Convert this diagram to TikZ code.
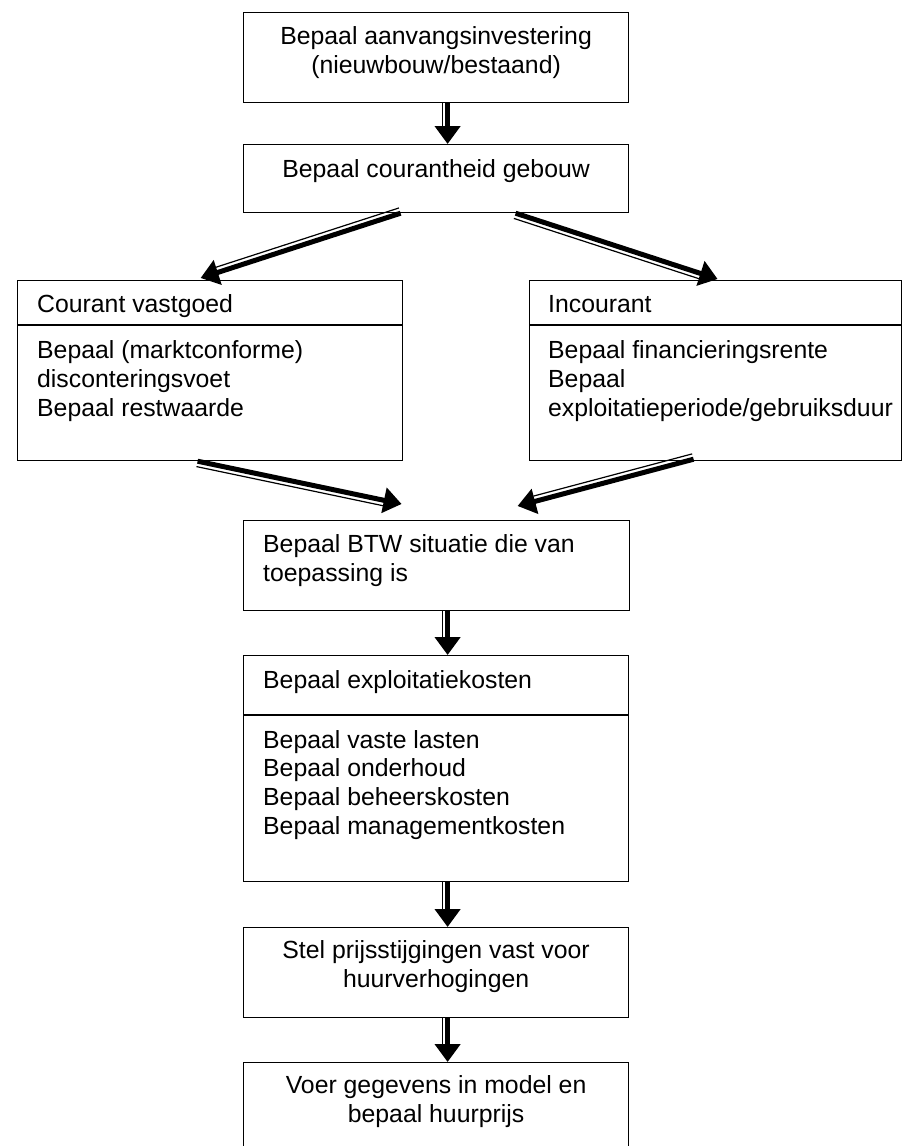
\documentclass[tikz,border=0pt]{standalone}
\usepackage{fontspec}
\setmainfont{Liberation Sans}
\usetikzlibrary{arrows.meta, calc}
\tikzstyle{box} = [rectangle, draw=black, line width=1.2pt, inner sep=0pt,
  anchor=north west]
\tikzstyle{txt} = [inner sep=0pt, font=\fontsize{24.8}{28.6}\selectfont]
\tikzstyle{arrow} = [line width=5pt, -{Triangle[length=18pt,width=25pt]}]
\tikzstyle{rim} = [line width=1.2pt]
\newcommand{\fatarrow}[2]{%
  \draw [arrow] (#1) -- (#2);
  \draw [rim] ($(#1)!5.5pt!-90:(#2)$) -- ($($(#2)!18pt!(#1)$)!5.5pt!-90:(#2)$);}

\begin{document}
\begin{tikzpicture}[x=1pt, y=-1pt]
\useasboundingbox (0,0) rectangle (903,1146);
\clip (0,0) rectangle (903,1146);

%% nodes
\node (invest) [box, minimum width=385pt, minimum height=90pt] at (243,12) {};
\node (investtxt) [txt, anchor=base, align=center] at ([yshift=-61pt]invest.north)
  {Bepaal aanvangsinvestering\\(nieuwbouw/bestaand)};
\node (courantheid) [box, minimum width=385pt, minimum height=68pt] at (243,144) {};
\node (courantheidtxt) [txt, anchor=base] at ([yshift=-33pt]courantheid.north)
  {Bepaal courantheid gebouw};
\node (courant) [box, minimum width=385pt, minimum height=180pt] at (17,280) {};
\node (couranthead) [txt, anchor=base west] at ([xshift=20pt,yshift=-32pt]courant.north west)
  {Courant vastgoed};
\node (courantbody) [txt, anchor=base west, align=left]
  at ([xshift=20pt,yshift=-136pt]courant.north west)
  {Bepaal (marktconforme)\\disconteringsvoet\\Bepaal restwaarde};
\node (incourant) [box, minimum width=372pt, minimum height=180pt] at (529,280) {};
\node (incouranthead) [txt, anchor=base west] at ([xshift=19pt,yshift=-32pt]incourant.north west)
  {Incourant};
\node (incourantbody) [txt, anchor=base west, align=left]
  at ([xshift=19pt,yshift=-136pt]incourant.north west)
  {Bepaal financieringsrente\\Bepaal\\exploitatieperiode/gebruiksduur};
\node (btw) [box, minimum width=386pt, minimum height=90pt] at (243,520) {};
\node (btwtxt) [txt, anchor=base west, align=left] at ([xshift=20pt,yshift=-61pt]btw.north west)
  {Bepaal BTW situatie die van\\toepassing is};
\node (kosten) [box, minimum width=385pt, minimum height=226pt] at (243,655) {};
\node (kostenhead) [txt, anchor=base west] at ([xshift=20pt,yshift=-33pt]kosten.north west)
  {Bepaal exploitatiekosten};
\node (kostenbody) [txt, anchor=base west, align=left]
  at ([xshift=20pt,yshift=-179pt]kosten.north west)
  {Bepaal vaste lasten\\Bepaal onderhoud\\Bepaal beheerskosten\\Bepaal managementkosten};
\node (prijs) [box, minimum width=385pt, minimum height=90pt] at (243,927) {};
\node (prijstxt) [txt, anchor=base, align=center] at ([yshift=-60pt]prijs.north)
  {Stel prijsstijgingen vast voor\\huurverhogingen};
\node (huur) [box, minimum width=385pt, minimum height=130pt] at (243,1062) {};
\node (huurtxt) [txt, anchor=base, align=center] at ([yshift=-60pt]huur.north)
  {Voer gegevens in model en\\bepaal huurprijs};

%% dividers
\draw [rim] ([yshift=-45pt]courant.north west) -- ([yshift=-45pt]courant.north east);
\draw [rim] ([yshift=-45pt]incourant.north west) -- ([yshift=-45pt]incourant.north east);
\draw [line width=2pt] ([yshift=-60pt]kosten.north west) -- ([yshift=-60pt]kosten.north east);

%% paths
\fatarrow{[xshift=11.5pt]invest.south}{[xshift=11.5pt]courantheid.north}
\fatarrow{[xshift=-35.5pt]courantheid.south}{[xshift=-9.5pt,yshift=2pt]courant.north}
\fatarrow{[xshift=79.5pt]courantheid.south}{[xshift=2pt,yshift=1pt]incourant.north}
\fatarrow{[xshift=-12.5pt]courant.south}{[xshift=-35pt,yshift=16pt]btw.north}
\fatarrow{[xshift=-22pt,yshift=2pt]incourant.south}{[xshift=81pt,yshift=14pt]btw.north}
\fatarrow{[xshift=11pt]btw.south}{[xshift=11.5pt]kosten.north}
\fatarrow{[xshift=11.5pt]kosten.south}{[xshift=11.5pt]prijs.north}
\fatarrow{[xshift=11.5pt]prijs.south}{[xshift=11.5pt]huur.north}

\end{tikzpicture}
\end{document}
